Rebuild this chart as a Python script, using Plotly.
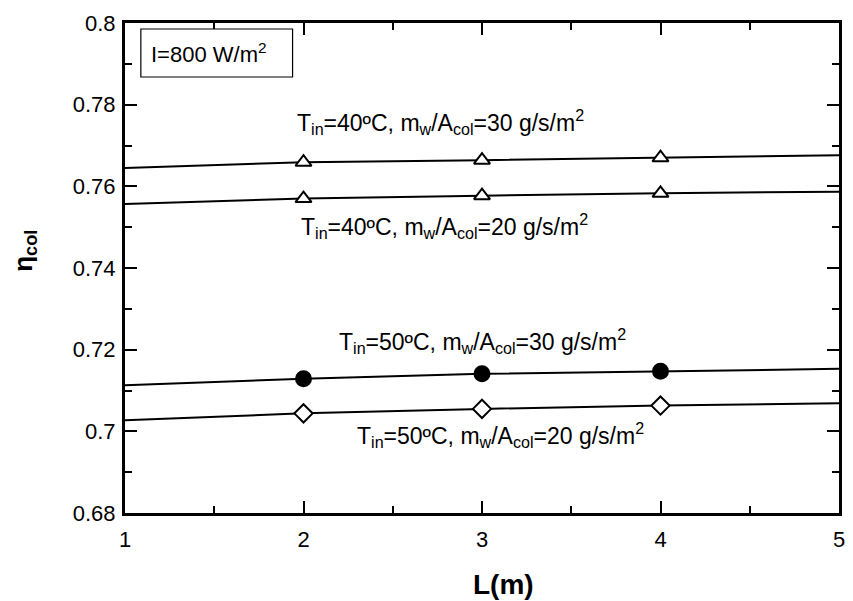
import plotly.graph_objects as go

# ---- data ----
L_line = [1, 2, 3, 4, 5]
L_mark = [2, 3, 4]

eta_40_30 = [0.7645, 0.7659, 0.7664, 0.7670, 0.7676]
eta_40_20 = [0.7557, 0.7570, 0.7577, 0.7583, 0.7587]
eta_50_30 = [0.7113, 0.7129, 0.7141, 0.7147, 0.7153]
eta_50_20 = [0.7027, 0.7044, 0.7055, 0.7063, 0.7069]

x_ticks = [1, 2, 3, 4, 5]
y_ticks = [0.68, 0.70, 0.72, 0.74, 0.76, 0.78, 0.80]
y_tick_text = ["0.68", "0.7", "0.72", "0.74", "0.76", "0.78", "0.8"]

series = [
    (eta_40_30, "triangle-up", "white", 14),
    (eta_40_20, "triangle-up", "white", 14),
    (eta_50_30, "circle", "black", 15),
    (eta_50_20, "diamond", "white", 14),
]

labels = [
    ("T<sub>in</sub>=40ºC, m<sub>w</sub>/A<sub>col</sub>=30 g/s/m<sup>2</sup>", 2.77, 0.7757),
    ("T<sub>in</sub>=40ºC, m<sub>w</sub>/A<sub>col</sub>=20 g/s/m<sup>2</sup>", 2.79, 0.7503),
    ("T<sub>in</sub>=50ºC, m<sub>w</sub>/A<sub>col</sub>=30 g/s/m<sup>2</sup>", 3.00, 0.7221),
    ("T<sub>in</sub>=50ºC, m<sub>w</sub>/A<sub>col</sub>=20 g/s/m<sup>2</sup>", 3.105, 0.6992),
]

FONT = "Liberation Sans, Arial, sans-serif"

fig = go.Figure()
for vals, sym, fill, size in series:
    fig.add_trace(go.Scatter(x=L_line, y=vals, mode="lines",
                             line=dict(color="black", width=2),
                             showlegend=False, hoverinfo="skip"))
    fig.add_trace(go.Scatter(x=L_mark, y=vals[1:4], mode="markers",
                             marker=dict(symbol=sym, size=size, color=fill,
                                         line=dict(color="black", width=2)),
                             showlegend=False))

for txt, xx, yy in labels:
    fig.add_annotation(x=xx, y=yy, xref="x", yref="y", text=txt, showarrow=False,
                       xanchor="center", yanchor="middle",
                       font=dict(family=FONT, size=23, color="black"))

# I=800 box
fig.add_shape(type="rect", xref="paper", yref="paper",
              x0=0.0222, x1=0.2347, y0=0.8898, y1=0.9878,
              line=dict(color="black", width=1.2), fillcolor="white", layer="above")
fig.add_annotation(x=0.1174, y=0.9388, xref="paper", yref="paper",
                   text="I=800 W/m<sup>2</sup>", showarrow=False,
                   xanchor="center", yanchor="middle",
                   font=dict(family=FONT, size=22, color="black"))

# axis titles
fig.add_annotation(x=(23 - 125) / 720, y=(513 - 251) / 490, xref="paper", yref="paper",
                   text="<b>η<sub>col</sub></b>", textangle=-90, showarrow=False,
                   xanchor="center", yanchor="middle",
                   font=dict(family=FONT, size=26, color="black"))
fig.add_annotation(x=(507 - 125) / 720, y=(513 - 584) / 490, xref="paper", yref="paper",
                   text="<b>L(m)</b>", showarrow=False,
                   xanchor="center", yanchor="middle",
                   font=dict(family=FONT, size=28, color="black"))

axis_common = dict(showgrid=False, zeroline=False, showline=True, linecolor="black",
                   linewidth=3, mirror="ticks", ticks="inside", ticklen=12,
                   tickwidth=2, tickcolor="black",
                   tickfont=dict(family=FONT, size=22, color="black"))

fig.update_xaxes(range=[1, 5], tickvals=x_ticks, ticktext=[str(v) for v in x_ticks],
                 minor=dict(dtick=0.5, ticks="inside", ticklen=7, tickwidth=2,
                            tickcolor="black", showgrid=False),
                 ticklabelstandoff=5, **axis_common)
fig.update_yaxes(range=[0.68, 0.80], tickvals=y_ticks, ticktext=y_tick_text,
                 minor=dict(dtick=0.01, ticks="inside", ticklen=7, tickwidth=2,
                            tickcolor="black", showgrid=False),
                 ticklabelstandoff=2, **axis_common)

fig.update_layout(width=853, height=601, plot_bgcolor="white", paper_bgcolor="white",
                  margin=dict(l=125, r=8, t=23, b=88), showlegend=False,
                  font=dict(family=FONT, color="black"))

fig.write_html("out.html", config={"displayModeBar": False},
               post_script="document.body.style.margin='0';document.body.style.overflow='hidden';")
